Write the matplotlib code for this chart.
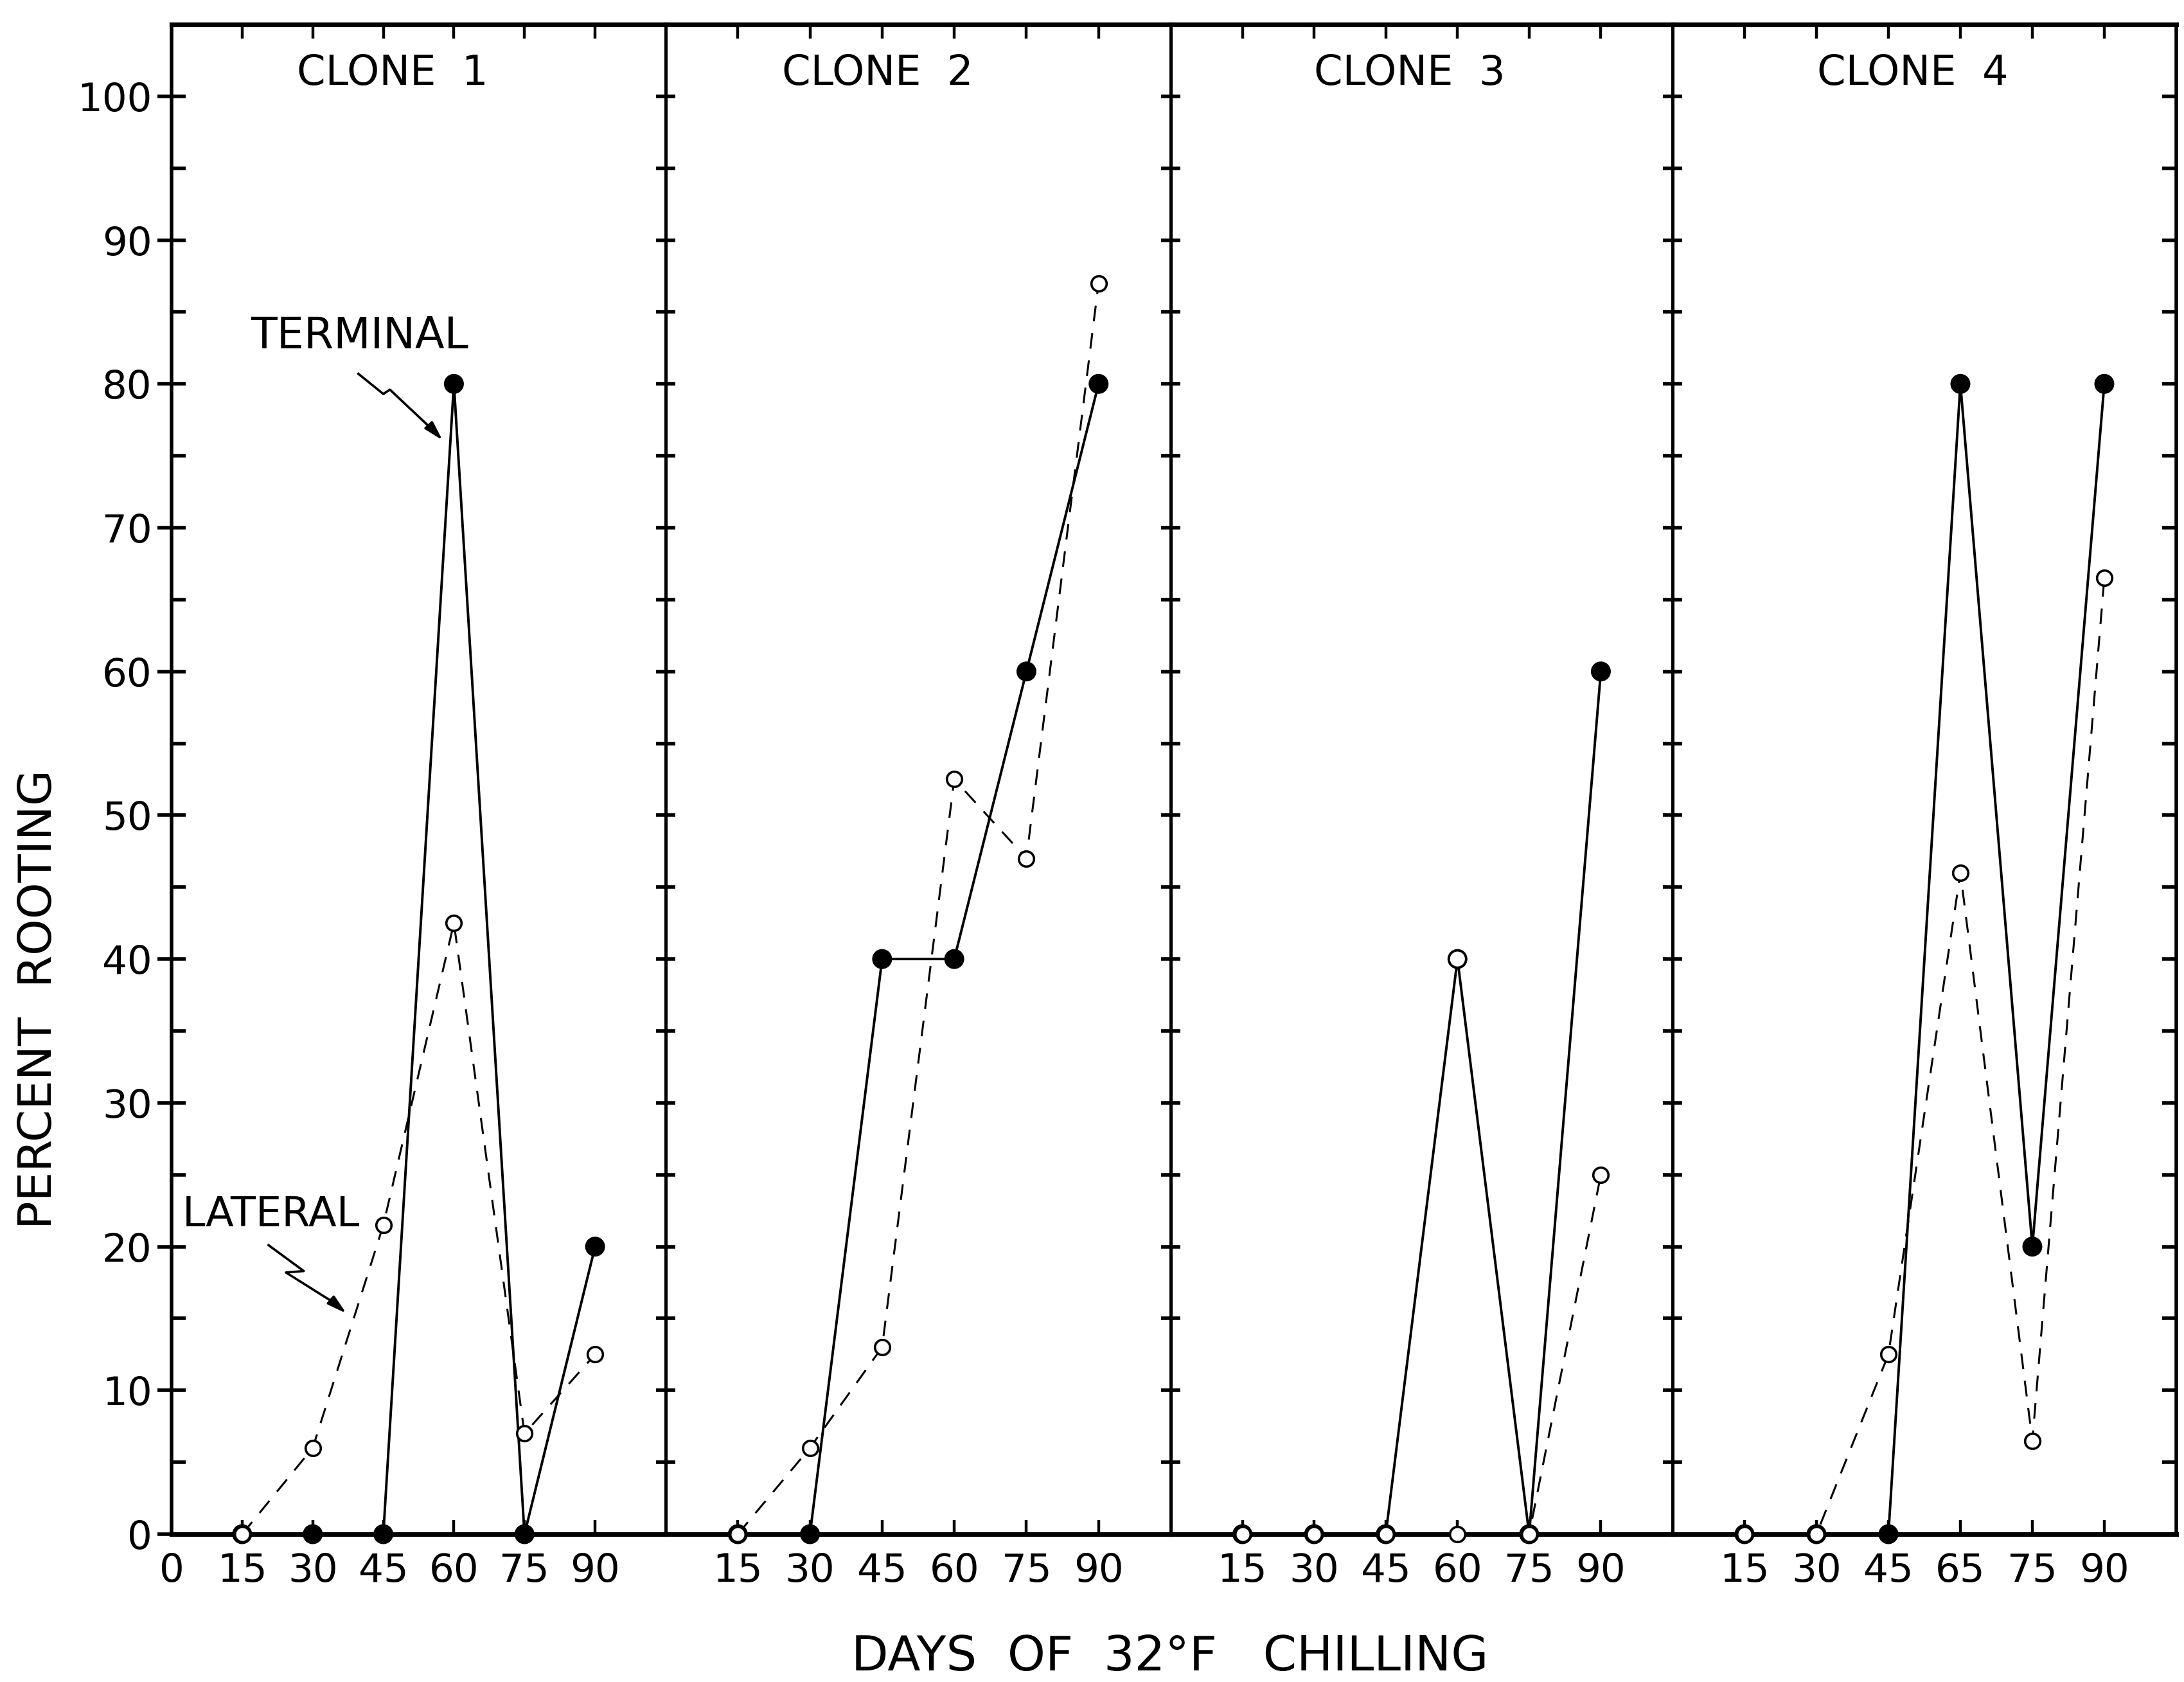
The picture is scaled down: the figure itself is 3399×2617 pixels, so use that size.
import matplotlib
matplotlib.use("Agg")
import matplotlib.pyplot as plt
from matplotlib.ticker import FixedLocator

# ---------------- data ----------------
days = [15, 30, 45, 60, 75, 90]
clones = ["CLONE  1", "CLONE  2", "CLONE  3", "CLONE  4"]

terminal_1 = [0, 0, 0, 80, 0, 20]
terminal_2 = [0, 0, 40, 40, 60, 80]
terminal_3 = [0, 0, 0, 40, 0, 60]
terminal_4 = [0, 0, 0, 80, 20, 80]

lateral_1 = [0, 6, 21.5, 42.5, 7, 12.5]
lateral_2 = [0, 6, 13, 52.5, 47, 87]
lateral_3 = [0, 0, 0, 0, 0, 25]
lateral_4 = [0, 0, 12.5, 46, 6.5, 66.5]

terminal = [terminal_1, terminal_2, terminal_3, terminal_4]
lateral = [lateral_1, lateral_2, lateral_3, lateral_4]
# terminal points drawn with an open symbol in the original
terminal_open_days = [[], [], [60], []]

xtick_pos_first = [0, 15, 30, 45, 60, 75, 90]
xtick_labels_first = ["0", "15", "30", "45", "60", "75", "90"]
xtick_pos = [15, 30, 45, 60, 75, 90]
xtick_labels_mid = ["15", "30", "45", "60", "75", "90"]
xtick_labels_last = ["15", "30", "45", "65", "75", "90"]
ytick_major = list(range(0, 101, 10))
ytick_minor = list(range(5, 100, 10))
ytick_all = list(range(0, 101, 5))

ylabel = "PERCENT  ROOTING"
xlabel = "DAYS  OF  32°F   CHILLING"

# ---------------- style ----------------
plt.rcParams["font.family"] = ["DejaVu Sans"]
FS = 21

fig = plt.figure(figsize=(3399 / 200, 2617 / 200), dpi=200)
gs = fig.add_gridspec(1, 4, left=267 / 3399, right=3387 / 3399,
                      bottom=1 - 2387 / 2617, top=1 - 38 / 2617,
                      wspace=0, width_ratios=[769, 786, 781, 784])
axes = [fig.add_subplot(gs[0, i]) for i in range(4)]

title_x = [47, 44, 50, 50]

for i, ax in enumerate(axes):
    ax.set_xlim(0, 105)
    ax.set_ylim(0, 105)
    for s in ax.spines.values():
        s.set_linewidth(2.0)
        s.set_color("black")
    ax.spines["top"].set_linewidth(2.6)
    ax.spines["bottom"].set_linewidth(2.6)
    if i > 0:
        ax.spines["left"].set_linewidth(1.8)
    if i < 3:
        ax.spines["right"].set_visible(False)

    # data
    ax.plot(days, terminal[i], color="black", lw=1.4, zorder=3)
    ax.plot(days, lateral[i], color="black", lw=1.1, dashes=(8, 6), zorder=4)
    fc = ["white" if d in terminal_open_days[i] else "black" for d in days]
    ax.scatter(days, terminal[i], s=95, facecolors=fc, edgecolors="black",
               linewidths=1.4, zorder=5, clip_on=False)
    ax.plot(days, lateral[i], ls="none", marker="o", ms=8.5, mfc="white",
            mec="black", mew=1.3, zorder=6, clip_on=False)

    # x ticks
    if i == 0:
        ax.set_xticks(xtick_pos_first)
        ax.set_xticklabels(xtick_labels_first)
    else:
        ax.set_xticks(xtick_pos)
        ax.set_xticklabels(xtick_labels_last if i == 3 else xtick_labels_mid)
    ax.tick_params(axis="x", which="major", direction="in", length=8,
                   width=1.6, labelsize=FS + 1, pad=10, top=True, labeltop=False)

    # y ticks
    if i == 0:
        ax.yaxis.set_major_locator(FixedLocator(ytick_major))
        ax.yaxis.set_minor_locator(FixedLocator(ytick_minor))
        ax.set_yticklabels([str(v) for v in ytick_major])
        ax.tick_params(axis="y", which="major", direction="inout", length=16,
                       width=2.0, labelsize=FS + 1, pad=3, right=False)
        ax.tick_params(axis="y", which="minor", direction="in", length=8,
                       width=2.0, right=False)
    else:
        ax.yaxis.set_major_locator(FixedLocator(ytick_all))
        ax.tick_params(axis="y", which="major", direction="inout", length=11,
                       width=2.0, labelleft=False, right=False)
    ax.text(title_x[i], 101.6, clones[i], ha="center", va="center", fontsize=FS + 2)

# right edge of last panel: inward ticks only
ax4r = axes[3].twinx()
ax4r.set_ylim(0, 105)
ax4r.yaxis.set_major_locator(FixedLocator(ytick_all))
ax4r.tick_params(axis="y", direction="in", length=8, width=2.0,
                 labelright=False, left=False)
for s in ax4r.spines.values():
    s.set_visible(False)

# annotations in panel 1
a = axes[0]
a.text(40, 83.3, "TERMINAL", ha="center", va="center", fontsize=FS + 3)
a.plot([39.7, 45.0, 46.4, 55.5], [80.7, 79.3, 79.6, 76.8], color="black", lw=1.3)
a.annotate("", xy=(58.1, 75.9), xytext=(55.0, 77.0),
           arrowprops=dict(arrowstyle="-|>,head_length=0.9,head_width=0.25",
                           color="black", lw=1.3))
a.text(21.2, 22.2, "LATERAL", ha="center", va="center", fontsize=FS + 2)
a.plot([20.6, 28.1, 24.3, 35.0], [20.1, 18.3, 18.2, 16.0], color="black", lw=1.3)
a.annotate("", xy=(37.7, 15.2), xytext=(34.5, 16.1),
           arrowprops=dict(arrowstyle="-|>,head_length=0.9,head_width=0.25",
                           color="black", lw=1.3))

fig.text(61 / 3399, 1 - 1555 / 2617, ylabel, rotation=90, ha="center",
         va="center", fontsize=FS + 5)
fig.text(1821 / 3399, 1 - 2578 / 2617, xlabel, ha="center", va="center",
         fontsize=FS + 6)

fig.savefig("out.png", dpi=200, facecolor="white")
